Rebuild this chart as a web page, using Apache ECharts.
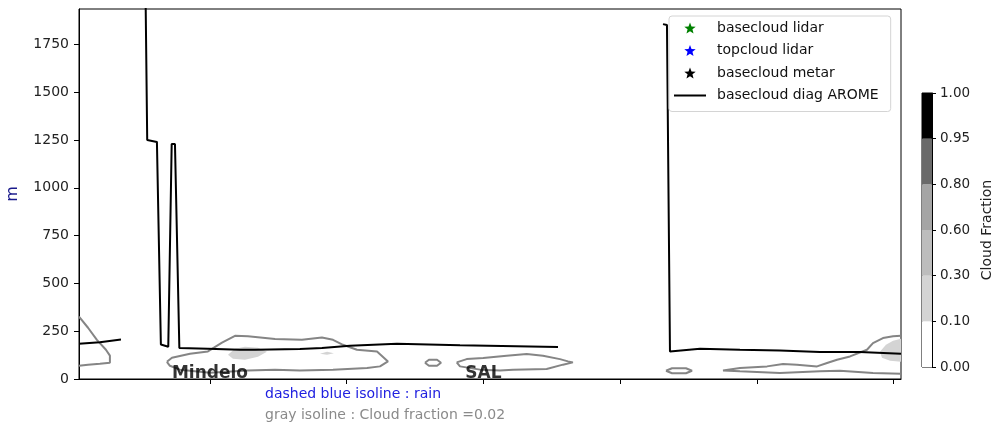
<!DOCTYPE html>
<html><head><meta charset="utf-8">
<script src="https://cdn.jsdelivr.net/npm/echarts@6/dist/echarts.min.js"></script>
<style>html,body{margin:0;padding:0;background:#fff}#c{width:994px;height:425px}</style>
</head><body><div id="c"></div>
<script>
// ---- axes ----
const xRange = [0.042, 6.055];
const xTicks = [1, 2, 3, 4, 5, 6];
const yRange = [0, 1935];
const yTicks = [0, 250, 500, 750, 1000, 1250, 1500, 1750];
// ---- stations ----
const stationNames = ['Mindelo', 'SAL'];
const stationX = [1, 3];
// ---- basecloud diag AROME (m) ----
const aromeBase = [
  [0.042, 184], [0.195, 192], [0.349, 206], [0.44, null],
  [0.529, 2000], [0.541, 1250], [0.612, 1240], [0.641, 180], [0.695, 169],
  [0.720, 1229], [0.744, 1229], [0.776, 162], [0.985, 158], [1.219, 153],
  [1.329, 153], [1.658, 157], [1.819, 162], [2.024, 174], [2.368, 184],
  [2.829, 176], [3.546, 167], [3.9, null],
  [4.314, 1856], [4.343, 1851], [4.365, 144], [4.585, 158], [4.877, 153],
  [5.169, 149], [5.462, 141], [5.753, 141], [6.055, 132]
];
// ---- cloud fraction = 0.02 isolines ----
const isoA = [[0.042, 326], [0.108, 268], [0.173, 205], [0.239, 153], [0.268, 122],
  [0.268, 85], [0.195, 80], [0.108, 75], [0.042, 69]];
const isoB = [[0.685, 90], [0.722, 111], [0.854, 132], [0.985, 144], [1.088, 190],
  [1.183, 226], [1.278, 223], [1.476, 209], [1.673, 205], [1.819, 217], [1.900, 205],
  [1.973, 179], [2.075, 153], [2.222, 144], [2.302, 92], [2.244, 66], [2.149, 57],
  [1.900, 49], [1.658, 45], [1.476, 49], [1.278, 45], [1.000, 33], [0.780, 49],
  [0.707, 69], [0.685, 90]];
const isoC = [[2.573, 85], [2.602, 101], [2.661, 101], [2.690, 85], [2.661, 69],
  [2.602, 69], [2.573, 85]];
const isoD = [[2.805, 87], [2.878, 104], [2.999, 110], [3.170, 122], [3.317, 131],
  [3.436, 122], [3.560, 104], [3.619, 92], [3.655, 87], [3.582, 75], [3.463, 52],
  [3.217, 49], [3.122, 45], [2.975, 49], [2.829, 66], [2.805, 87]];
const isoE = [[4.336, 43], [4.380, 56], [4.482, 56], [4.526, 43], [4.482, 30],
  [4.380, 30], [4.336, 43]];
const isoF = [[6.055, 226], [5.997, 223], [5.923, 214], [5.850, 188], [5.806, 153],
  [5.682, 118], [5.587, 101], [5.514, 84], [5.441, 66], [5.294, 75], [5.192, 78],
  [5.075, 66], [4.877, 57], [4.753, 45], [4.877, 40], [5.169, 31], [5.462, 40],
  [5.608, 43], [5.850, 31], [6.055, 28]];
// ---- cloud fraction 0.10-0.30 filled areas ----
const fill1 = [[1.132, 127], [1.183, 158], [1.256, 169], [1.351, 164], [1.417, 143],
  [1.351, 116], [1.256, 101], [1.168, 106]];
const fill2 = [[1.805, 132], [1.856, 143], [1.907, 135], [1.856, 127]];
const fill3 = [[5.901, 143], [5.945, 179], [5.997, 200], [6.055, 211], [6.055, 90],
  [5.975, 96], [5.916, 111]];
// ---- colorbar ----
const cbLevels = ['0.00', '0.10', '0.30', '0.60', '0.80', '0.95', '1.00'];
const cbColors = ['#ffffff', '#d4d4d4', '#bdbdbd', '#a5a5a5', '#6a6a6a', '#000000'];
const cbSteps = [1, 1, 1, 1, 1, 1];
// ---- legend ----
const legendNames = ['basecloud lidar', 'topcloud lidar', 'basecloud metar', 'basecloud diag AROME'];
const legendColors = ['#008000', '#0000ff', '#000000', '#000000'];

const FONT = 'DejaVu Sans';
const STAR = 'path://M12,1 L14.9,8.6 L23,9 L16.7,14.2 L18.8,22.2 L12,17.7 L5.2,22.2 L7.3,14.2 L1,9 L9.1,8.6 Z';
const LINE_ICON = 'path://M0,0 L32,0 L32,2 L0,2 Z';
const ISO_COLOR = '#858585';
const FILL_COLOR = cbColors[1];

function polySeries(pts, color) {
  return {
    type: 'custom', xAxisIndex: 0, yAxisIndex: 0, data: pts, clip: true, silent: true, z: 1,
    renderItem: function (params, api) {
      if (params.dataIndex !== 0) return null;
      const points = pts.map(p => api.coord(p));
      return { type: 'polygon', shape: { points: points }, style: { fill: color, stroke: null } };
    }
  };
}
function isoSeries(pts) {
  return {
    type: 'line', xAxisIndex: 0, yAxisIndex: 0, data: pts, symbol: 'none', silent: true, z: 2,
    lineStyle: { color: ISO_COLOR, width: 2 }, clip: true
  };
}

const series = [];
[fill1, fill2, fill3].forEach(f => series.push(polySeries(f, FILL_COLOR)));
[isoA, isoB, isoC, isoD, isoE, isoF].forEach(s => series.push(isoSeries(s)));
for (let i = 0; i < 3; i++) {
  series.push({ type: 'scatter', name: legendNames[i], data: [], symbol: STAR, symbolSize: 11,
    itemStyle: { color: legendColors[i], opacity: 1 }, xAxisIndex: 0, yAxisIndex: 0 });
}
series.push({
  type: 'line', name: legendNames[3], data: aromeBase, symbol: 'none', connectNulls: false,
  lineStyle: { color: '#000', width: 2 }, itemStyle: { color: '#000' }, z: 3, clip: true,
  xAxisIndex: 0, yAxisIndex: 0
});
series.push({
  type: 'scatter', data: stationX.map(x => [x, 0]), symbolSize: 0, silent: true, z: 5,
  xAxisIndex: 0, yAxisIndex: 0, clip: false,
  label: { show: true, position: 'top', distance: -3, color: '#000', fontFamily: FONT,
    fontWeight: 'bold', fontSize: 17, formatter: p => stationNames[p.dataIndex] }
});
cbSteps.forEach((v, i) => {
  series.push({ type: 'bar', xAxisIndex: 1, yAxisIndex: 1, stack: 'cb', data: [v],
    barWidth: '100%', silent: true, itemStyle: { color: cbColors[i] } });
});

const chart = echarts.init(document.getElementById('c'), null, { renderer: 'canvas' });
chart.setOption({
  animation: false,
  backgroundColor: '#fff',
  textStyle: { fontFamily: FONT },
  grid: [
    { left: 79, top: 9, width: 822, height: 370, show: true, borderColor: '#000', borderWidth: 1,
      backgroundColor: 'transparent', containLabel: false, outerBoundsMode: 'none' },
    { left: 922, top: 93, width: 10, height: 274, show: true, borderColor: '#000', borderWidth: 1,
      backgroundColor: 'transparent', containLabel: false, outerBoundsMode: 'none' }
  ],
  xAxis: [
    { type: 'value', gridIndex: 0, min: xRange[0], max: xRange[1],
      axisLine: { show: true, lineStyle: { color: '#000', width: 1 } },
      axisTick: { show: true, inside: false, length: 5, customValues: xTicks, lineStyle: { color: '#000' } },
      axisLabel: { show: false }, splitLine: { show: false } },
    { type: 'category', gridIndex: 1, data: [''], show: false }
  ],
  yAxis: [
    { type: 'value', gridIndex: 0, min: yRange[0], max: yRange[1],
      name: 'm', nameLocation: 'middle', nameGap: 58, nameRotate: 90, nameMoveOverlap: false,
      nameTextStyle: { color: '#1a1a8c', fontSize: 16, fontFamily: FONT },
      axisLine: { show: true, lineStyle: { color: '#000', width: 1 } },
      axisTick: { show: true, inside: false, length: 5, customValues: yTicks, lineStyle: { color: '#000' } },
      axisLabel: { show: true, customValues: yTicks, margin: 10, fontSize: 14, color: '#222', fontFamily: FONT,
        formatter: v => String(v) },
      splitLine: { show: false } },
    { type: 'value', gridIndex: 1, min: 0, max: 6, interval: 1, position: 'right',
      name: 'Cloud Fraction', nameLocation: 'middle', nameGap: 48, nameRotate: 90,
      nameTextStyle: { color: '#222', fontSize: 14, fontFamily: FONT },
      axisLine: { show: true, lineStyle: { color: '#000', width: 1 } },
      axisTick: { show: true, inside: false, length: 4, lineStyle: { color: '#000' } },
      axisLabel: { show: true, margin: 8, fontSize: 13.5, color: '#222', fontFamily: FONT,
        formatter: v => cbLevels[Math.round(v)] },
      splitLine: { show: false } }
  ],
  legend: {
    orient: 'vertical', left: 669, top: 16, padding: [5, 12, 9, 5],
    itemWidth: 32, itemHeight: 11, itemGap: 8.5,
    backgroundColor: 'rgba(255,255,255,0.85)', borderColor: '#d4d4d4', borderWidth: 1, borderRadius: 3,
    textStyle: { fontSize: 14, color: '#111', fontFamily: FONT, padding: [0, 0, 0, 6] },
    selectedMode: false,
    data: legendNames.map((n, i) => i < 3
      ? { name: n, icon: STAR, itemStyle: { color: legendColors[i], opacity: 1 } }
      : { name: n, icon: LINE_ICON, itemStyle: { color: '#000', opacity: 1 } })
  },
  graphic: [
    { type: 'text', left: 265, top: 387, silent: true,
      style: { text: 'dashed blue isoline : rain', fill: '#2020e0', fontSize: 14, fontFamily: FONT } },
    { type: 'text', left: 265, top: 408, silent: true,
      style: { text: 'gray isoline : Cloud fraction =0.02', fill: '#8a8a8a', fontSize: 14, fontFamily: FONT } }
  ],
  series: series
});
</script>
</body></html>
